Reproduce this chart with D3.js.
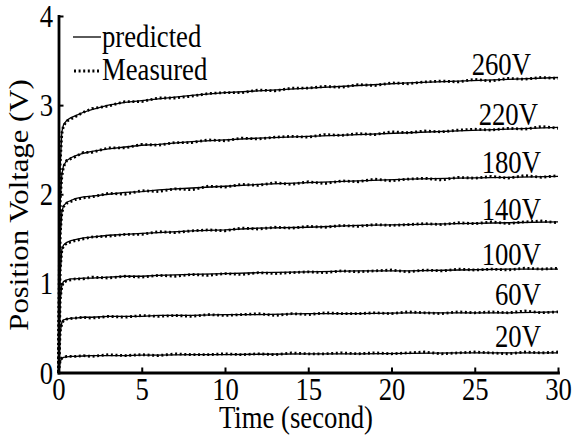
<!DOCTYPE html>
<html>
<head>
<meta charset="UTF-8">
<script src="https://d3js.org/d3.v7.min.js"></script>
<style>
  body { margin: 0; background: #fff; }
</style>
</head>
<body>
<svg id="chart" width="572" height="437"></svg>
<script>
// predicted curves (time in s, voltage in V)
const predTime = [0, 0.1, 0.2, 0.3, 0.5, 0.75, 1, 1.5, 2, 3, 4, 5, 6, 8, 10, 12, 15, 18, 21, 24, 27, 30];
const voltages = ["260V", "220V", "180V", "140V", "100V", "60V", "20V"];
const predicted = [
  [0, 2.30, 2.70, 2.78, 2.83, 2.86, 2.88, 2.92, 2.95, 3.00, 3.03, 3.05, 3.07, 3.11, 3.14, 3.16, 3.19, 3.22, 3.25, 3.27, 3.29, 3.31],
  [0, 1.90, 2.22, 2.32, 2.38, 2.41, 2.43, 2.46, 2.48, 2.51, 2.53, 2.55, 2.56, 2.59, 2.61, 2.63, 2.65, 2.67, 2.69, 2.71, 2.73, 2.75],
  [0, 1.50, 1.80, 1.87, 1.91, 1.93, 1.95, 1.97, 1.98, 2.00, 2.02, 2.03, 2.05, 2.07, 2.09, 2.11, 2.13, 2.15, 2.17, 2.18, 2.19, 2.20],
  [0, 1.10, 1.38, 1.43, 1.46, 1.48, 1.49, 1.51, 1.52, 1.54, 1.55, 1.56, 1.57, 1.59, 1.60, 1.62, 1.63, 1.65, 1.66, 1.67, 1.68, 1.69],
  [0, 0.80, 0.98, 1.02, 1.04, 1.05, 1.05, 1.06, 1.06, 1.07, 1.08, 1.08, 1.09, 1.10, 1.11, 1.12, 1.13, 1.14, 1.14, 1.15, 1.16, 1.16],
  [0, 0.45, 0.56, 0.59, 0.60, 0.61, 0.61, 0.62, 0.62, 0.63, 0.63, 0.63, 0.64, 0.64, 0.65, 0.65, 0.66, 0.66, 0.67, 0.67, 0.67, 0.68],
  [0, 0.12, 0.16, 0.17, 0.175, 0.18, 0.18, 0.185, 0.19, 0.19, 0.19, 0.195, 0.195, 0.20, 0.20, 0.205, 0.21, 0.21, 0.215, 0.22, 0.22, 0.22]
];

// measured curves
const measTime = [0, 0.1, 0.2, 0.3, 0.5, 1, 1.5, 2, 3, 4, 5, 6, 7, 8, 9, 10, 11, 12, 13, 14, 15, 16, 17, 18, 19, 20, 21, 22, 23, 24, 25, 26, 27, 28, 29, 30];
const measured = [
  [0, 2.35, 2.68, 2.77, 2.82, 2.87, 2.92, 2.96, 2.99, 3.04, 3.04, 3.08, 3.08, 3.10, 3.13, 3.14, 3.14, 3.17, 3.16, 3.19, 3.19, 3.21, 3.20, 3.23, 3.22, 3.25, 3.24, 3.26, 3.27, 3.26, 3.29, 3.27, 3.30, 3.29, 3.31, 3.30],
  [0, 1.95, 2.20, 2.31, 2.38, 2.42, 2.47, 2.47, 2.52, 2.52, 2.56, 2.55, 2.58, 2.58, 2.61, 2.60, 2.63, 2.62, 2.64, 2.65, 2.64, 2.67, 2.66, 2.68, 2.67, 2.70, 2.69, 2.71, 2.70, 2.72, 2.73, 2.72, 2.74, 2.73, 2.76, 2.74],
  [0, 1.55, 1.79, 1.86, 1.90, 1.94, 1.96, 1.97, 2.01, 2.00, 2.04, 2.03, 2.06, 2.05, 2.09, 2.08, 2.11, 2.10, 2.13, 2.11, 2.14, 2.12, 2.15, 2.14, 2.17, 2.15, 2.17, 2.18, 2.16, 2.19, 2.18, 2.20, 2.18, 2.21, 2.19, 2.21],
  [0, 1.15, 1.37, 1.42, 1.45, 1.48, 1.50, 1.52, 1.53, 1.55, 1.55, 1.58, 1.57, 1.59, 1.60, 1.59, 1.62, 1.61, 1.63, 1.62, 1.64, 1.63, 1.65, 1.64, 1.66, 1.65, 1.66, 1.67, 1.66, 1.68, 1.67, 1.69, 1.67, 1.69, 1.70, 1.68],
  [0, 0.82, 0.97, 1.01, 1.03, 1.05, 1.05, 1.07, 1.06, 1.08, 1.07, 1.09, 1.08, 1.10, 1.09, 1.11, 1.10, 1.12, 1.11, 1.12, 1.13, 1.12, 1.14, 1.13, 1.14, 1.15, 1.13, 1.15, 1.14, 1.16, 1.15, 1.16, 1.15, 1.17, 1.16, 1.17],
  [0, 0.46, 0.55, 0.58, 0.60, 0.61, 0.62, 0.61, 0.63, 0.62, 0.64, 0.63, 0.64, 0.63, 0.65, 0.64, 0.65, 0.66, 0.64, 0.66, 0.65, 0.67, 0.66, 0.66, 0.67, 0.66, 0.68, 0.67, 0.66, 0.68, 0.67, 0.68, 0.67, 0.69, 0.67, 0.68],
  [0, 0.13, 0.16, 0.17, 0.18, 0.18, 0.19, 0.18, 0.20, 0.19, 0.20, 0.19, 0.21, 0.20, 0.20, 0.21, 0.20, 0.21, 0.20, 0.22, 0.21, 0.21, 0.22, 0.21, 0.22, 0.21, 0.22, 0.23, 0.21, 0.22, 0.23, 0.22, 0.21, 0.23, 0.22, 0.23]
];

const xTicks = [0, 5, 10, 15, 20, 25, 30];
const yTicks = [0, 1, 2, 3, 4];

const svg = d3.select("#chart");
const fs = 26.7;      // font size
const stretch = 1.15; // text in the picture is a bit taller than wide

const x = d3.scaleLinear().domain([0, 30]).range([58.5, 558]);
const y = d3.scaleLinear().domain([0, 4]).range([372.5, 16]);

// label placement for each curve: right end x and baseline y
const labelPos = [[531, 75], [538, 125], [541, 173], [541, 220], [541, 265], [541, 305], [541, 347]];

const line = d3.line().x(d => x(d[0])).y(d => y(d[1]));

function serif(sel) {
  sel.style("font-family", '"Liberation Serif"')
    .style("font-size", fs + "px")
    .style("fill", "#000");
}

function addText(parent, str, tf, anchor) {
  return parent.append("text")
    .attr("text-anchor", anchor || "start")
    .attr("transform", tf)
    .call(serif)
    .text(str);
}

const curves = svg.append("g");
voltages.forEach((v, i) => {
  curves.append("path")
    .datum(measTime.map((t, j) => [t, measured[i][j]]))
    .attr("d", line)
    .attr("fill", "none")
    .attr("stroke", "#000")
    .attr("stroke-width", 2.8)
    .attr("stroke-dasharray", "2,2.6");

  curves.append("path")
    .datum(predTime.map((t, j) => [t, predicted[i][j]]))
    .attr("d", line)
    .attr("fill", "none")
    .attr("stroke", "#000")
    .attr("stroke-width", 1.3);

  addText(svg, v, `translate(${labelPos[i][0]},${labelPos[i][1]}) scale(1,${stretch})`, "end");
});

// axes
const xAxis = svg.append("g")
  .attr("transform", `translate(0,${y(0)})`)
  .call(d3.axisBottom(x).tickValues(xTicks).tickSizeInner(-5).tickSizeOuter(0).tickFormat(d3.format("d")));

const yAxis = svg.append("g")
  .attr("transform", `translate(${x(0)},0)`)
  .call(d3.axisLeft(y).tickValues(yTicks).tickSizeInner(-5).tickSizeOuter(0).tickFormat(d3.format("d")));

[xAxis, yAxis].forEach(a => {
  a.attr("font-family", null).attr("font-size", null);
  a.select(".domain").attr("stroke-width", 2.8).attr("stroke-linecap", "square");
  a.selectAll(".tick line").attr("stroke-width", 2);
  a.selectAll("text").call(serif);
});

xAxis.selectAll(".tick text")
  .attr("y", 0).attr("dy", 0)
  .attr("transform", `translate(0,27.5) scale(1,${stretch})`);

yAxis.selectAll(".tick text")
  .attr("x", 0).attr("dy", 0)
  .attr("text-anchor", "end")
  .attr("transform", `translate(-5.5,10.5) scale(1,${stretch})`);

// axis titles
addText(svg, "Time (second)", `translate(296,428) scale(1,${stretch})`, "middle");
addText(svg, "Position Voltage (V)", `translate(28,205) rotate(-90) scale(${stretch},1)`, "middle");

// legend
const legend = svg.append("g");
legend.append("line")
  .attr("x1", 73).attr("x2", 101).attr("y1", 37).attr("y2", 37)
  .attr("stroke", "#000").attr("stroke-width", 1.3);
addText(legend, "predicted", `translate(102,47) scale(1,${stretch})`);
legend.append("line")
  .attr("x1", 74).attr("x2", 101).attr("y1", 71).attr("y2", 71)
  .attr("stroke", "#000").attr("stroke-width", 2.8)
  .attr("stroke-dasharray", "2,2.6");
addText(legend, "Measured", `translate(102,80) scale(1,${stretch})`);
</script>
</body>
</html>
